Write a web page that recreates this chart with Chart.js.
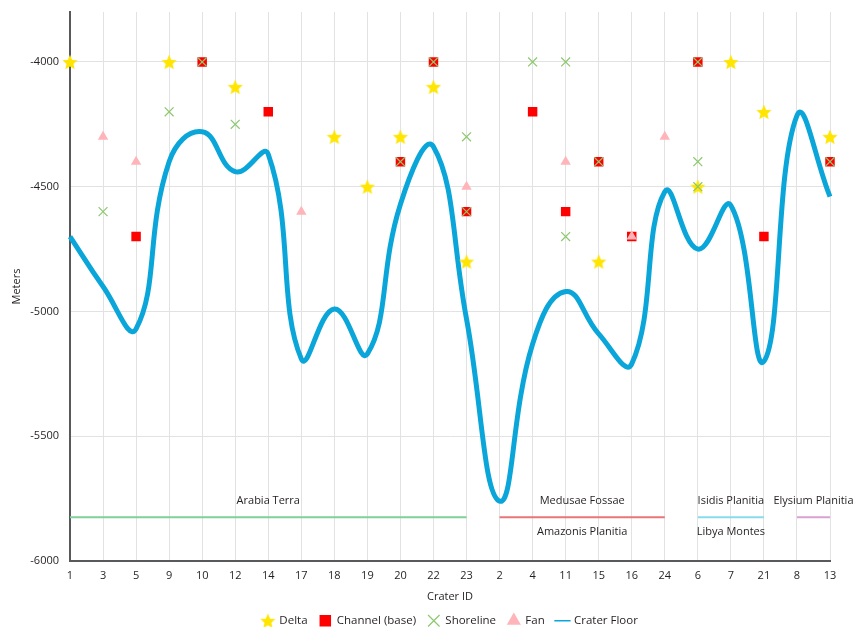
<!DOCTYPE html>
<html><head><meta charset="utf-8">
<script src="https://cdn.jsdelivr.net/npm/chart.js@4.4.1/dist/chart.umd.min.js"></script>
<style>html,body{margin:0;padding:0;background:#fff}#wrap{width:858px;height:628px;position:relative}</style>
</head><body><div id="wrap"><canvas id="c"></canvas></div>
<script>
const craterIds = ['1','3','5','9','10','12','14','17','18','19','20','22','23','2','4','11','15','16','24','6','7','21','8','13'];
const craterFloor = [-4700,-4900,-5070,-4400,-4280,-4440,-4370,-5190,-4990,-5170,-4570,-4340,-5030,-5760,-5130,-4920,-5090,-5210,-4520,-4750,-4575,-5200,-4215,-4540];
const delta   = [-4000,null,null,-4000,null,-4100,null,null,-4300,-4500,-4300,-4100,-4800,null,null,null,-4800,null,null,-4500,-4000,-4200,null,-4300];
const channel = [null,null,-4700,null,-4000,null,-4200,null,null,null,-4400,-4000,-4600,null,-4200,-4600,-4400,-4700,null,-4000,null,-4700,null,-4400];
const fan     = [null,-4300,-4400,null,null,null,null,-4600,null,null,null,null,-4500,null,null,-4400,null,-4700,-4300,null,null,null,null,null];
const shorelineIds    = ['3','9','10','12','20','22','23','23','4','11','11','15','6','6','6','13'];
const shorelineValues = [-4600,-4200,-4000,-4250,-4400,-4000,-4300,-4600,-4000,-4000,-4700,-4400,-4000,-4400,-4500,-4400];
const regionNames    = ['Arabia Terra','Medusae Fossae','Isidis Planitia','Elysium Planitia'];
const regionSubNames = ['','Amazonis Planitia','Libya Montes',''];
const regionFrom     = ['1','2','6','8'];
const regionTo       = ['23','24','21','13'];
const regionColors   = ['#7fd197','#e87676','#86dcea','#d9a2d2'];
const regionLevel = -5825;
const yTicks = [-6000,-5500,-5000,-4500,-4000];

const FONT = '"Open Sans", "DejaVu Sans", sans-serif';

function makeStar(size, color){
  const c = document.createElement('canvas');
  c.width = size; c.height = size;
  const g = c.getContext('2d');
  g.fillStyle = color;
  g.beginPath();
  const cx = size/2, cy = size/2 + size*0.05, R = size/2, r = R*0.45;
  for (let i=0;i<10;i++){
    const a = -Math.PI/2 + i*Math.PI/5;
    const rad = (i%2) ? r : R;
    g.lineTo(cx + rad*Math.cos(a), cy + rad*Math.sin(a));
  }
  g.closePath(); g.fill();
  return c;
}
const starImg = makeStar(16, '#ffe500');

function regionData(i){
  const a = craterIds.indexOf(regionFrom[i]), b = craterIds.indexOf(regionTo[i]);
  return craterIds.map((_, k) => (k >= a && k <= b) ? regionLevel : null);
}

const regionPlugin = {
  id: 'regionLabels',
  afterDatasetsDraw(chart){
    const ctx = chart.ctx, xs = chart.scales.x, ys = chart.scales.y;
    const y = ys.getPixelForValue(regionLevel);
    ctx.save();
    ctx.font = '11px ' + FONT;
    ctx.fillStyle = '#231f20';
    ctx.textAlign = 'center';
    ctx.textBaseline = 'middle';
    regionNames.forEach((name, i) => {
      const x1 = xs.getPixelForValue(craterIds.indexOf(regionFrom[i]));
      const x2 = xs.getPixelForValue(craterIds.indexOf(regionTo[i]));
      const cx = (x1 + x2) / 2;
      ctx.fillText(name, cx, y - 16);
      if (regionSubNames[i]) ctx.fillText(regionSubNames[i], cx, y + 15);
    });
    ctx.restore();
  }
};

const legendFitPlugin = {
  id: 'legendFit',
  afterInit(chart){
    const lg = chart.legend;
    if (!lg) return;
    const f = lg.fit.bind(lg);
    lg.fit = function(){ f(); this.height = 24; };
  }
};

const datasets = [
  { label:'Delta', data: delta, showLine:false, pointStyle: starImg, pointRadius: 8, order: 3 },
  { label:'Channel (base)', data: channel, showLine:false, pointStyle:'rect', pointRadius: 6.7,
    backgroundColor:'#ff0000', borderColor:'#ff0000', borderWidth:0, order: 2 },
  { label:'Shoreline', data: shorelineIds.map((id,k)=>({x:id, y:shorelineValues[k]})), showLine:false,
    pointStyle:'crossRot', pointRadius: 6.3, borderColor:'#8cc86e', backgroundColor:'#8cc86e', pointBorderWidth:1.2, order: 0 },
  { label:'Fan', data: fan, showLine:false, pointStyle:'triangle', pointRadius: 6,
    backgroundColor:'#ffb4b9', borderColor:'#ffb4b9', borderWidth:0, order: 1 },
  { label:'Crater Floor', data: craterFloor, borderColor:'#0aa6da', backgroundColor:'#0aa6da',
    borderWidth: 5, tension: 0.45, pointRadius: 0, pointStyle:'line', order: 4 },
];
regionNames.forEach((n,i)=>{
  datasets.push({ label: '_region'+i, data: regionData(i), borderColor: regionColors[i], borderWidth: 2,
    pointRadius: 0, tension: 0, spanGaps:false, order: 5 });
});

new Chart(document.getElementById('c'), {
  type: 'line',
  data: { labels: craterIds, datasets },
  plugins: [regionPlugin, legendFitPlugin],
  options: {
    responsive: true, maintainAspectRatio: false, animation: false,
    layout: { padding: { left: 0, right: 28, top: 12, bottom: 1 } },
    plugins: {
      tooltip: { enabled:false },
      legend: {
        position: 'bottom',
        fullSize: false,
        labels: {
          usePointStyle: true, padding: 12,
          font: { family: FONT, size: 11.5 }, color: '#231f20',
          filter: (item) => !item.text.startsWith('_region'),
          sort: (a,b) => a.datasetIndex - b.datasetIndex,
          generateLabels(chart){
            const items = Chart.defaults.plugins.legend.labels.generateLabels(chart);
            items.forEach(it => {
              if (it.text === 'Crater Floor') { it.lineWidth = 1.5; it.strokeStyle = '#0aa6da'; }
              if (it.text === 'Shoreline') { it.lineWidth = 1.2; }
            });
            return items;
          }
        }
      }
    },
    scales: {
      x: {
        offset: false,
        grid: { color: '#e2e2e2', lineWidth: 1, drawTicks: false },
        border: { color: '#58595b', width: 2 },
        ticks: { font: { family: FONT, size: 11 }, color: '#231f20', padding: 8, maxRotation: 0, autoSkip: false },
        title: { display: true, text: 'Crater ID', font: { family: FONT, size: 11 }, color: '#231f20', padding: { top: 6, bottom: 0 } },
        afterFit: (s) => { s.height = 42; }
      },
      y: {
        min: -6000, max: -3800,
        afterBuildTicks: (s) => { s.ticks = yTicks.map(v => ({ value: v })); },
        grid: { color: '#e2e2e2', lineWidth: 1, drawTicks: false },
        border: { color: '#58595b', width: 2 },
        ticks: { font: { family: FONT, size: 11 }, color: '#231f20', padding: 11, callback: (v) => String(v) },
        title: { display: true, text: 'Meters', font: { family: FONT, size: 11 }, color: '#231f20', padding: { top: 10, bottom: 0 } },
        afterFit: (s) => { s.width = 70; s.paddingTop = 0; }
      }
    }
  }
});
</script>
</body></html>
